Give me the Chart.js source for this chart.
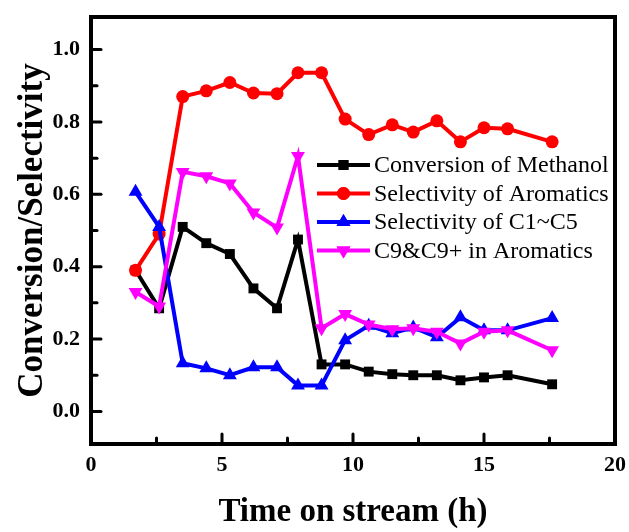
<!DOCTYPE html>
<html>
<head>
<meta charset="utf-8">
<script src="https://cdn.jsdelivr.net/npm/chart.js@4.4.1/dist/chart.umd.min.js"></script>
<style>
  html, body { margin: 0; padding: 0; background: #fff; }
  #chart { display: block; }
</style>
</head>
<body>
<canvas id="chart" width="629" height="532"></canvas>
<script>
// Time on stream (h)
const timeOnStream = [1.7, 2.6, 3.5, 4.4, 5.3, 6.2, 7.1, 7.9, 8.8, 9.7, 10.6, 11.5, 12.3, 13.2, 14.1, 15.0, 15.9, 17.6];

const conversionMethanol = [0.39, 0.285, 0.51, 0.465, 0.435, 0.34, 0.285, 0.475, 0.13, 0.13, 0.11, 0.103, 0.1, 0.1, 0.086, 0.094, 0.1, 0.075];
const selectivityAromatics = [0.39, 0.49, 0.87, 0.886, 0.909, 0.88, 0.878, 0.936, 0.936, 0.808, 0.765, 0.792, 0.772, 0.803, 0.745, 0.784, 0.781, 0.745];
const selectivityC1C5 = [0.607, 0.51, 0.133, 0.119, 0.1, 0.122, 0.122, 0.072, 0.072, 0.197, 0.237, 0.216, 0.232, 0.205, 0.26, 0.224, 0.224, 0.258];
const c9InAromatics = [0.33, 0.29, 0.662, 0.65, 0.63, 0.55, 0.508, 0.706, 0.23, 0.269, 0.24, 0.227, 0.23, 0.22, 0.188, 0.22, 0.224, 0.169];

const xTicks = [0, 5, 10, 15, 20];
const xMinorTicks = [2.5, 7.5, 12.5, 17.5];
const yTicks = [0.0, 0.2, 0.4, 0.6, 0.8, 1.0];
const yMinorTicks = [0.1, 0.3, 0.5, 0.7, 0.9];

const serif = "'Liberation Serif', 'Times New Roman', serif";

function toPoints(values) {
    return values.map((v, i) => ({ x: timeOnStream[i], y: v }));
}

const seriesDefs = [
    { label: 'Conversion of Methanol', data: conversionMethanol, color: '#000000', style: 'rect', radius: 7, rotation: 0, order: 4 },
    { label: 'Selectivity of Aromatics', data: selectivityAromatics, color: '#ff0000', style: 'circle', radius: 6.5, rotation: 0, order: 3 },
    { label: 'Selectivity of C1~C5', data: selectivityC1C5, color: '#0000ff', style: 'triangle', radius: 8, rotation: 0, order: 2 },
    { label: 'C9&C9+ in Aromatics', data: c9InAromatics, color: '#ff00ff', style: 'triangle', radius: 8, rotation: 180, order: 1 }
];

// frame and inward ticks, like the original plot
const framePlugin = {
    id: 'frame',
    beforeDatasetsDraw(chart) {
        const { ctx, chartArea: a, scales: { x, y } } = chart;
        ctx.save();
        ctx.strokeStyle = '#000';
        ctx.lineWidth = 3;
        ctx.lineCap = 'round';
        const tick = (x1, y1, x2, y2) => { ctx.beginPath(); ctx.moveTo(x1, y1); ctx.lineTo(x2, y2); ctx.stroke(); };
        xTicks.forEach(v => { const px = x.getPixelForValue(v); tick(px, a.bottom, px, a.bottom - 10); });
        xMinorTicks.forEach(v => { const px = x.getPixelForValue(v); tick(px, a.bottom, px, a.bottom - 6); });
        yTicks.forEach(v => { const py = y.getPixelForValue(v); tick(a.left, py, a.left + 10, py); });
        yMinorTicks.forEach(v => { const py = y.getPixelForValue(v); tick(a.left, py, a.left + 6, py); });
        ctx.lineWidth = 4;
        ctx.lineCap = 'butt';
        ctx.strokeRect(a.left, a.top, a.right - a.left, a.bottom - a.top);
        ctx.restore();
    }
};

// legend drawn as line + marker, placed inside the plot
const legendPlugin = {
    id: 'lineLegend',
    afterDatasetsDraw(chart) {
        const { ctx, chartArea: a } = chart;
        const x0 = a.left + 226, x1 = a.left + 279, top = a.top + 148, rowH = 28.5;
        ctx.save();
        seriesDefs.forEach((s, i) => {
            const yy = top + i * rowH;
            ctx.strokeStyle = s.color;
            ctx.lineWidth = 4;
            ctx.beginPath(); ctx.moveTo(x0, yy); ctx.lineTo(x1, yy); ctx.stroke();
            ctx.fillStyle = s.color;
            Chart.helpers.drawPoint(ctx, { pointStyle: s.style, radius: s.radius, rotation: s.rotation, borderWidth: 0 }, (x0 + x1) / 2, yy);
            ctx.fill();
            ctx.fillStyle = '#000';
            ctx.font = '24px ' + serif;
            ctx.textBaseline = 'middle';
            ctx.textAlign = 'left';
            ctx.fillText(s.label, x1 + 4, yy + 1);
        });
        ctx.restore();
    }
};

const ctx = document.getElementById('chart').getContext('2d');
const chart = new Chart(ctx, {
    type: 'line',
    data: {
        datasets: seriesDefs.map(s => ({
            label: s.label,
            data: toPoints(s.data),
            borderColor: s.color,
            backgroundColor: s.color,
            borderWidth: 4,
            pointStyle: s.style,
            pointRotation: s.rotation,
            pointRadius: s.radius,
            pointBorderWidth: 0,
            pointBackgroundColor: s.color,
            tension: 0,
            order: s.order
        }))
    },
    options: {
        responsive: false,
        animation: false,
        layout: { padding: { top: 17, right: 14, left: 0, bottom: 0 } },
        plugins: { legend: { display: false }, tooltip: { enabled: false } },
        scales: {
            x: {
                type: 'linear',
                min: 0,
                max: 20,
                afterBuildTicks: scale => { scale.ticks = xTicks.map(v => ({ value: v })); },
                afterFit: scale => {
                    scale.height = 88;
                    scale.paddingLeft = 0;
                    scale.paddingRight = 0;
                },
                grid: { display: false, drawTicks: false },
                border: { display: false },
                ticks: {
                    padding: 8,
                    color: '#000',
                    maxRotation: 0,
                    font: { family: serif, size: 22, weight: 'bold', lineHeight: 1.2 }
                },
                title: {
                    display: true,
                    text: 'Time on stream (h)',
                    color: '#000',
                    padding: { top: 0, bottom: 0 },
                    font: { family: serif, size: 33, weight: 'bold', lineHeight: 1.2 }
                }
            },
            y: {
                min: -0.09,
                max: 1.09,
                afterBuildTicks: scale => { scale.ticks = yTicks.map(v => ({ value: v })); },
                afterFit: scale => {
                    scale.width = 91;
                    scale.paddingTop = 0;
                    scale.paddingBottom = 0;
                },
                grid: { display: false, drawTicks: false },
                border: { display: false },
                ticks: {
                    padding: 11,
                    color: '#000',
                    callback: v => v.toFixed(1),
                    font: { family: serif, size: 22, weight: 'bold', lineHeight: 1.2 }
                },
                title: {
                    display: true,
                    text: 'Conversion/Selectivity',
                    color: '#000',
                    padding: { top: 12, bottom: 0 },
                    font: { family: serif, size: 35, weight: 'bold', lineHeight: 1.2 }
                }
            }
        }
    },
    plugins: [framePlugin, legendPlugin]
});
</script>
</body>
</html>
